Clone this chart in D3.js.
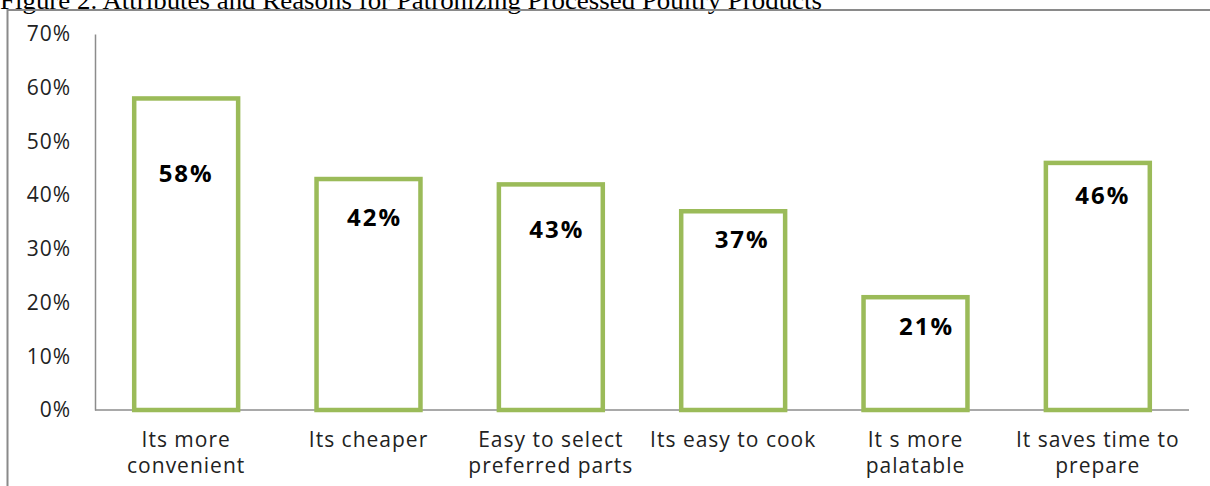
<!DOCTYPE html>
<html>
<head>
<meta charset="utf-8">
<script src="https://cdn.jsdelivr.net/npm/d3@7"></script>
<style>
  body { margin: 0; background: #fff; }
  svg { display: block; }
</style>
</head>
<body>
<div id="container"></div>
<script>
let width = 1210;
let height = 486;

// chart values
const categories = [
    ['Its more', 'convenient'],
    ['Its cheaper'],
    ['Easy to select', 'preferred parts'],
    ['Its easy to cook'],
    ['It s more', 'palatable'],
    ['It saves time to', 'prepare']
];
const values = [58, 43, 42, 37, 21, 46];
const valueLabels = ['58%', '42%', '43%', '37%', '21%', '46%'];
// where the (hand-placed) data labels sit, in value units
const labelAt = [44.1, 35.9, 33.5, 31.7, 15.5, 40.0];
const yTicks = [0, 10, 20, 30, 40, 50, 60, 70];

const title = 'Figure 2. Attributes and Reasons for Patronizing Processed Poultry Products';

const margin = {left: 95, right: 21, top: 34, bottom: 76};

const svg = d3.select('#container')
    .append('svg')
    .attr('width', width)
    .attr('height', height);

// title, cut off at the top like in the source page
svg.append('text')
    .attr('x', 0)
    .attr('y', 9)
    .attr('font-family', 'Liberation Serif, Times New Roman, serif')
    .attr('font-size', 26)
    .attr('textLength', 822)
    .attr('lengthAdjust', 'spacingAndGlyphs')
    .attr('fill', '#000')
    .text(title);

// frame
svg.append('path')
    .attr('d', 'M7.5,' + height + 'V10H' + width)
    .attr('fill', 'none')
    .attr('stroke', '#8a8a8a')
    .attr('stroke-width', 2);

const x = d3.scaleBand()
    .domain(d3.range(categories.length))
    .range([margin.left, width - margin.right])
    .paddingInner(0.43)
    .paddingOuter(0.215);

const y = d3.scaleLinear()
    .domain([0, 70])
    .range([height - margin.bottom, margin.top]);

// y axis
const yAxis = svg.append('g')
    .attr('transform', 'translate(' + margin.left + ',0)')
    .call(d3.axisLeft(y)
        .tickValues(yTicks)
        .tickSize(0)
        .tickPadding(24)
        .tickFormat(d => d + '%'));
yAxis.select('.domain').attr('stroke', '#8c8c8c').attr('stroke-width', 1.5);
yAxis.selectAll('text')
    .attr('font-family', 'Open Sans, sans-serif')
    .attr('font-size', 21)
    .attr('letter-spacing', 1)
    .attr('fill', '#222');

// baseline
svg.append('line')
    .attr('x1', margin.left)
    .attr('x2', width - margin.right)
    .attr('y1', y(0))
    .attr('y2', y(0))
    .attr('stroke', '#8c8c8c')
    .attr('stroke-width', 1.5);

// bars
svg.append('g')
    .selectAll('rect')
    .data(values)
    .join('rect')
    .attr('x', (d, i) => x(i))
    .attr('y', d => y(d))
    .attr('width', x.bandwidth())
    .attr('height', d => y(0) - y(d))
    .attr('fill', '#fff')
    .attr('stroke', '#9bbb59')
    .attr('stroke-width', 4.5);

// value labels
svg.append('g')
    .selectAll('text')
    .data(valueLabels)
    .join('text')
    .attr('x', (d, i) => x(i) + x.bandwidth() / 2 + [0, 6, 6, 9, 11, 5][i])
    .attr('y', (d, i) => y(labelAt[i]))
    .attr('dy', '0.35em')
    .attr('text-anchor', 'middle')
    .attr('font-family', 'Open Sans, sans-serif')
    .attr('font-weight', 'bold')
    .attr('font-size', 24)
    .attr('letter-spacing', 2)
    .attr('fill', '#000')
    .text(d => d);

// category labels
const cat = svg.append('g')
    .selectAll('text')
    .data(categories)
    .join('text')
    .attr('x', (d, i) => x(i) + x.bandwidth() / 2)
    .attr('y', 447)
    .attr('text-anchor', 'middle')
    .attr('font-family', 'Open Sans, sans-serif')
    .attr('font-size', 21)
    .attr('letter-spacing', 1)
    .attr('fill', '#222');
cat.selectAll('tspan')
    .data(d => d)
    .join('tspan')
    .attr('x', function () { return this.parentNode.getAttribute('x'); })
    .attr('dy', (d, i) => i === 0 ? 0 : 26)
    .text(d => d);
</script>
</body>
</html>
